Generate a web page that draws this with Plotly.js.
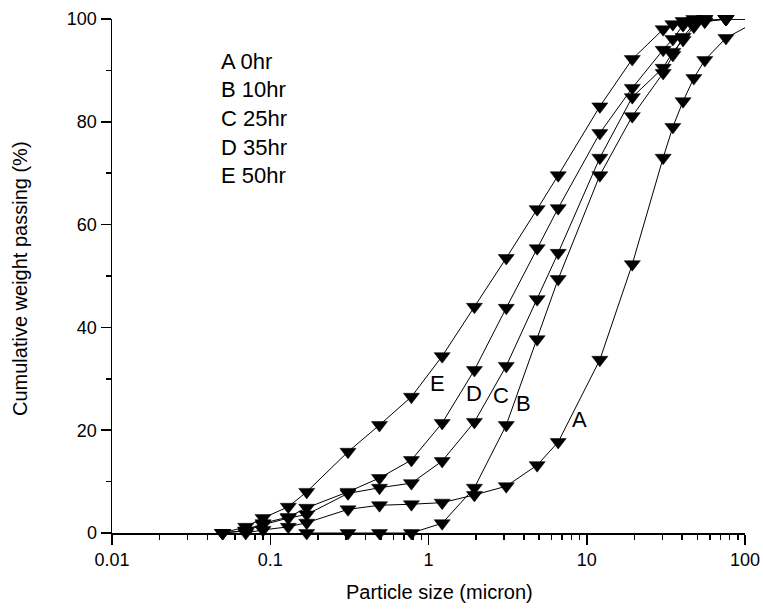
<!DOCTYPE html>
<html><head><meta charset="utf-8">
<script src="https://cdn.plot.ly/plotly-3.0.1.min.js"></script>
<style>html,body{margin:0;padding:0;background:#fff}#chart{width:763px;height:609px}</style>
</head><body><div id="chart"></div>
<script>
// Particle size (micron) and cumulative weight passing (%) per milling time
const seriesNames = ["A", "B", "C", "D", "E"];
const legendLines = ["A 0hr", "B 10hr", "C 25hr", "D 35hr", "E 50hr"];

const xA = [0.07,0.09,0.13,0.17,0.31,0.49,0.78,1.22,1.95,3.1,4.86,6.6,12.1,19.4,30.4,35,40.6,47.5,55.7,75.8,130];
const yA = [0,0.6,1.2,2.0,4.6,5.4,5.6,5.9,7.4,9.1,13.2,17.7,33.7,52.3,73.0,79.0,84.0,88.5,92.0,96.3,100.2];

const xB = [0.17,0.31,0.49,0.78,1.22,1.95,3.1,4.86,6.6,12.1,19.4,30.4,35,40.6,47.5,55.7,75.8,130];
const yB = [0,0,0,0,1.9,8.8,21.0,37.7,49.4,69.6,81.1,89.5,93.0,96.5,99.0,99.5,100,100];

const xC = [0.05,0.07,0.09,0.13,0.17,0.31,0.49,0.78,1.22,1.95,3.1,4.86,6.6,12.1,19.4,30.4,35,40.6,47.5,55.7,75.8,130];
const yC = [0,0.4,1.6,2.9,3.6,7.7,8.8,9.7,14.0,21.6,32.5,45.5,54.5,73.0,84.8,90.5,93.6,95.9,98.5,99.5,100,100];

const xD = [0.05,0.07,0.09,0.13,0.17,0.31,0.49,0.78,1.22,1.95,3.1,4.86,6.6,12.1,19.4,30.4,35,40.6,47.5,55.7,75.8,130];
const yD = [0,0.5,1.9,3.1,4.9,8.0,10.7,14.2,21.4,31.7,43.8,55.4,63.2,77.8,86.6,94.0,96.1,98.8,99.6,100,100,100];

const xE = [0.05,0.07,0.09,0.13,0.17,0.31,0.49,0.78,1.22,1.95,3.1,4.86,6.6,12.1,19.4,30.4,35,40.6,47.5,55.7,75.8,130];
const yE = [0,1.2,2.9,5.1,8.0,15.8,21.0,26.5,34.4,44.0,53.5,63.0,69.6,83.0,92.2,98.0,99.0,99.6,100,100,100,100];

const xTickVals = [0.01, 0.1, 1, 10, 100];
const xTickText = ["0.01", "0.1", "1", "10", "100"];
const yTickVals = [0, 20, 40, 60, 80, 100];

// curve label anchor points (x in micron, y in %)
const labelX = [8.97, 3.98, 2.89, 1.95, 1.14];
const labelY = [22.0, 25.1, 26.7, 27.2, 29.0];

const xs = [xA, xB, xC, xD, xE];
const ys = [yA, yB, yC, yD, yE];

const traces = xs.map((x, i) => ({
  x: x, y: ys[i], type: 'scatter', mode: 'lines+markers', name: seriesNames[i],
  cliponaxis: false,
  line: {color: 'black', width: 1},
  marker: {symbol: 'triangle-down', color: 'black', opacity: 1,
           line: {color: 'black', width: 0.5},
           size: x.map(v => v > 100 ? 0 : 14)}
}));

const FONT = 'Liberation Sans, Arial, sans-serif';
const annotations = [];
legendLines.forEach((t, i) => annotations.push({
  xref: 'paper', yref: 'paper', x: (219 - 112) / 633, y: (533 - (61 + i * 28.7)) / 514,
  xanchor: 'left', yanchor: 'middle', text: t, showarrow: false,
  font: {family: FONT, size: 22, color: 'black'}
}));
seriesNames.forEach((t, i) => annotations.push({
  x: Math.log10(labelX[i]), y: labelY[i], xref: 'x', yref: 'y',
  xanchor: 'center', yanchor: 'middle', text: t, showarrow: false,
  font: {family: FONT, size: 22, color: 'black'}
}));
annotations.push({
  xref: 'paper', yref: 'paper', x: (439 - 112) / 633, y: (533 - 592) / 514,
  xanchor: 'center', yanchor: 'middle', text: 'Particle size (micron)', showarrow: false,
  font: {family: FONT, size: 20, color: 'black'}
});
annotations.push({
  xref: 'paper', yref: 'paper', x: (20 - 112) / 633, y: (533 - 279) / 514,
  xanchor: 'center', yanchor: 'middle', textangle: -90, text: 'Cumulative weight passing (%)', showarrow: false,
  font: {family: FONT, size: 20, color: 'black'}
});

const layout = {
  width: 763, height: 609,
  margin: {l: 112, r: 18, t: 19, b: 76},
  paper_bgcolor: 'white', plot_bgcolor: 'white',
  showlegend: false,
  font: {family: FONT, color: 'black'},
  xaxis: {
    type: 'log', range: [-2, 2], tickvals: xTickVals, ticktext: xTickText,
    showgrid: false, zeroline: false, showline: true, linecolor: 'black', linewidth: 1.5,
    ticks: 'outside', ticklen: 10, tickwidth: 1.5, tickcolor: 'black',
    tickfont: {family: FONT, size: 18, color: 'black'},
    minor: {ticks: 'outside', ticklen: 5, tickwidth: 1.5, tickcolor: 'black', dtick: 'D1', showgrid: false}
  },
  yaxis: {
    range: [0, 100], tickvals: yTickVals,
    showgrid: false, zeroline: false, showline: true, linecolor: 'black', linewidth: 1.5,
    ticks: 'outside', ticklen: 10, tickwidth: 1.5, tickcolor: 'black',
    tickfont: {family: FONT, size: 18, color: 'black'},
    minor: {ticks: 'outside', ticklen: 5, tickwidth: 1.5, tickcolor: 'black', dtick: 10, showgrid: false}
  },
  annotations: annotations
};

Plotly.newPlot('chart', traces, layout, {displayModeBar: false, staticPlot: true});
</script>
</body></html>
